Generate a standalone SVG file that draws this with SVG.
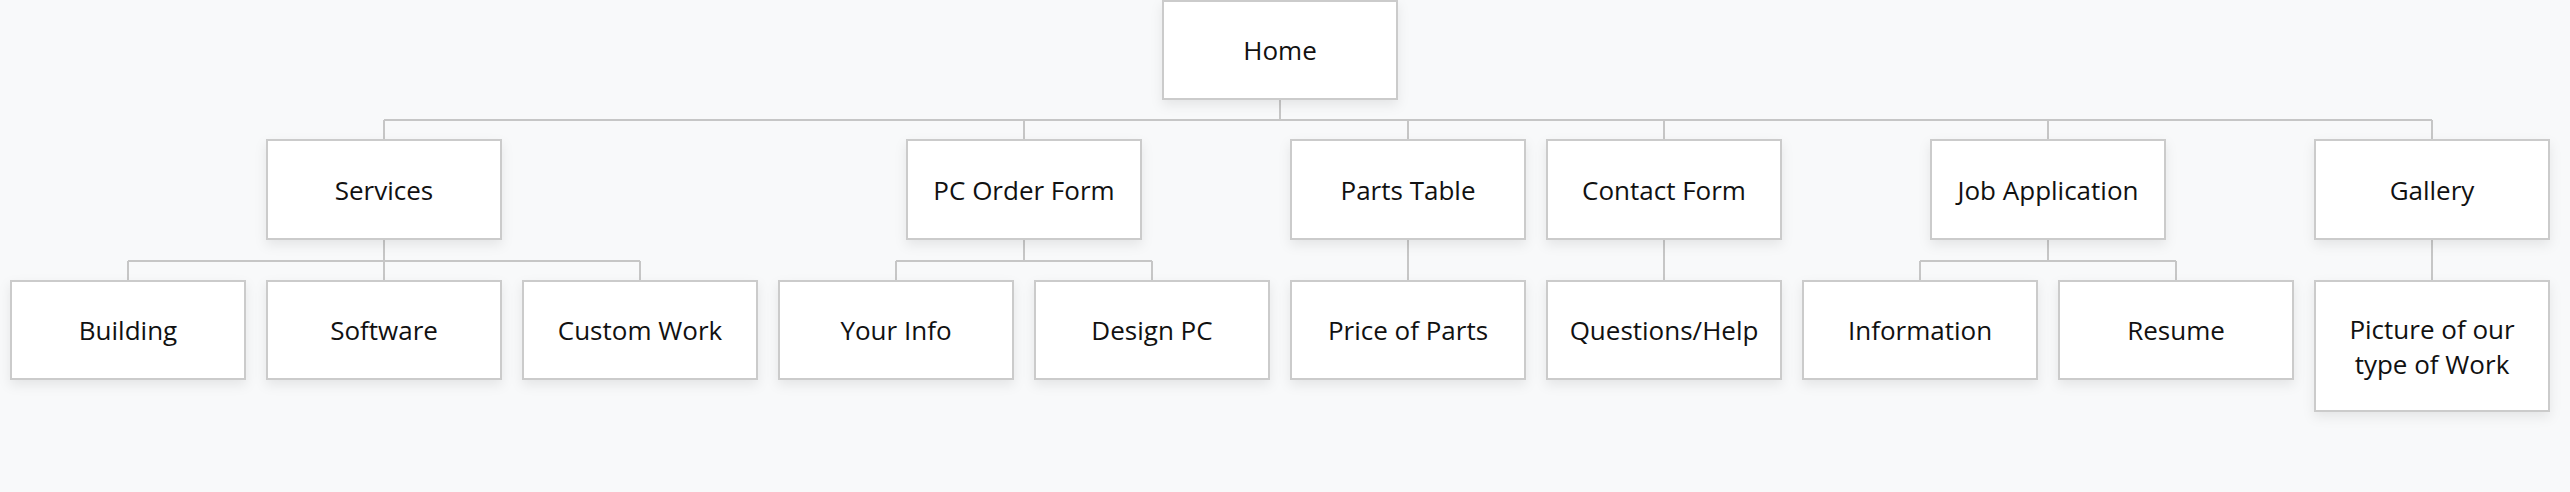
<svg xmlns="http://www.w3.org/2000/svg" width="2570" height="492" viewBox="0 0 2570 492">
<defs>
<filter id="sh" x="-10%" y="-20%" width="120%" height="150%">
<feDropShadow dx="0" dy="5" stdDeviation="6" flood-color="#000" flood-opacity="0.08"/>
</filter>
<style>
.box{fill:#ffffff;stroke:#cbcbcb;stroke-width:2;filter:url(#sh);}
.lbl{font-family:"Open Sans","Liberation Sans",sans-serif;font-size:26px;fill:#111;text-anchor:middle;}
.con{stroke:#c6c6c6;stroke-width:2;fill:none;}
</style>
</defs>
<rect width="2570" height="492" fill="#f8f9fa"/>
<g id="connectors">
<path class="con" d="M1280 99V120M384 120H2432M384 120V140M1024 120V140M1408 120V140M1664 120V140M2048 120V140M2432 120V140"/>
<path class="con" d="M384 239V261M128 261H640M128 261V281M384 261V281M640 261V281"/>
<path class="con" d="M1024 239V261M896 261H1152M896 261V281M1152 261V281"/>
<path class="con" d="M1408 239V281M1664 239V281M2432 239V281"/>
<path class="con" d="M2048 239V261M1920 261H2176M1920 261V281M2176 261V281"/>
</g>
<g id="home"><rect class="box" x="1163" y="1" width="234" height="98"/><text class="lbl" x="1280" y="60">Home</text></g>
<g id="services"><rect class="box" x="267" y="140" width="234" height="99"/><text class="lbl" x="384" y="200">Services</text></g>
<g id="pc-order-form"><rect class="box" x="907" y="140" width="234" height="99"/><text class="lbl" x="1024" y="200">PC Order Form</text></g>
<g id="parts-table"><rect class="box" x="1291" y="140" width="234" height="99"/><text class="lbl" x="1408" y="200">Parts Table</text></g>
<g id="contact-form"><rect class="box" x="1547" y="140" width="234" height="99"/><text class="lbl" x="1664" y="200">Contact Form</text></g>
<g id="job-application"><rect class="box" x="1931" y="140" width="234" height="99"/><text class="lbl" x="2048" y="200">Job Application</text></g>
<g id="gallery"><rect class="box" x="2315" y="140" width="234" height="99"/><text class="lbl" x="2432" y="200">Gallery</text></g>
<g id="building"><rect class="box" x="11" y="281" width="234" height="98"/><text class="lbl" x="128" y="340">Building</text></g>
<g id="software"><rect class="box" x="267" y="281" width="234" height="98"/><text class="lbl" x="384" y="340">Software</text></g>
<g id="custom-work"><rect class="box" x="523" y="281" width="234" height="98"/><text class="lbl" x="640" y="340">Custom Work</text></g>
<g id="your-info"><rect class="box" x="779" y="281" width="234" height="98"/><text class="lbl" x="896" y="340">Your Info</text></g>
<g id="design-pc"><rect class="box" x="1035" y="281" width="234" height="98"/><text class="lbl" x="1152" y="340">Design PC</text></g>
<g id="price-of-parts"><rect class="box" x="1291" y="281" width="234" height="98"/><text class="lbl" x="1408" y="340">Price of Parts</text></g>
<g id="questions-help"><rect class="box" x="1547" y="281" width="234" height="98"/><text class="lbl" x="1664" y="340">Questions/Help</text></g>
<g id="information"><rect class="box" x="1803" y="281" width="234" height="98"/><text class="lbl" x="1920" y="340">Information</text></g>
<g id="resume"><rect class="box" x="2059" y="281" width="234" height="98"/><text class="lbl" x="2176" y="340">Resume</text></g>
<g id="picture"><rect class="box" x="2315" y="281" width="234" height="130"/><text class="lbl" x="2432" y="339">Picture of our</text><text class="lbl" x="2432" y="374">type of Work</text></g>
</svg>
